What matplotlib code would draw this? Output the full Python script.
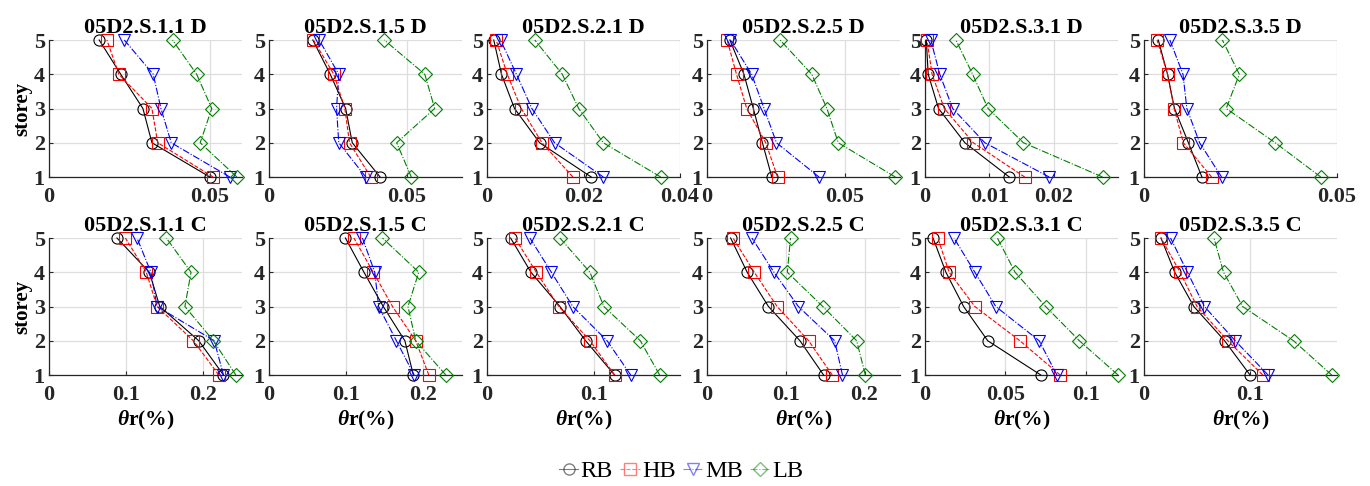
import matplotlib
matplotlib.use('Agg')
import matplotlib.pyplot as plt
from matplotlib.lines import Line2D

plt.rcParams['font.family'] = ['Liberation Serif', 'DejaVu Serif']
plt.rcParams['mathtext.fontset'] = 'custom'
plt.rcParams['mathtext.it'] = 'Liberation Serif:italic:bold'
plt.rcParams['mathtext.rm'] = 'Liberation Serif:bold'

storeys = [1, 2, 3, 4, 5]
titles = ['05D2.S.1.1 D', '05D2.S.1.5 D', '05D2.S.2.1 D', '05D2.S.2.5 D', '05D2.S.3.1 D', '05D2.S.3.5 D',
          '05D2.S.1.1 C', '05D2.S.1.5 C', '05D2.S.2.1 C', '05D2.S.2.5 C', '05D2.S.3.1 C', '05D2.S.3.5 C']

# drift per storey (storey 1 .. 5)
rb = [[0.0500, 0.0320, 0.0292, 0.0223, 0.0156],
      [0.0403, 0.0302, 0.0278, 0.0222, 0.0159],
      [0.0216, 0.0109, 0.0057, 0.0030, 0.0014],
      [0.0235, 0.0201, 0.0168, 0.0134, 0.0083],
      [0.0131, 0.0062, 0.0021, 0.0005, 0.0002],
      [0.0150, 0.0115, 0.0079, 0.0061, 0.0037],
      [0.226, 0.194, 0.1435, 0.130, 0.088],
      [0.187, 0.176, 0.148, 0.123, 0.099],
      [0.119, 0.092, 0.068, 0.041, 0.022],
      [0.148, 0.118, 0.078, 0.051, 0.030],
      [0.072, 0.039, 0.024, 0.013, 0.005],
      [0.100, 0.076, 0.047, 0.029, 0.016]]
hb = [[0.0510, 0.0338, 0.0320, 0.0217, 0.0180],
      [0.0369, 0.0292, 0.0275, 0.0235, 0.0161],
      [0.0178, 0.0114, 0.0071, 0.0042, 0.0019],
      [0.0256, 0.0213, 0.0144, 0.0107, 0.0073],
      [0.0155, 0.0075, 0.0030, 0.0011, 0.0003],
      [0.0175, 0.0102, 0.0078, 0.0061, 0.0034],
      [0.220, 0.187, 0.140, 0.126, 0.099],
      [0.207, 0.190, 0.160, 0.135, 0.110],
      [0.119, 0.096, 0.067, 0.046, 0.026],
      [0.159, 0.129, 0.089, 0.060, 0.033],
      [0.084, 0.059, 0.031, 0.015, 0.008],
      [0.112, 0.079, 0.050, 0.034, 0.016]]
mb = [[0.0562, 0.0380, 0.0348, 0.0324, 0.0234],
      [0.0351, 0.0253, 0.0245, 0.0253, 0.0182],
      [0.0241, 0.0140, 0.0093, 0.0061, 0.0028],
      [0.0406, 0.0252, 0.0207, 0.0162, 0.0085],
      [0.0193, 0.0093, 0.0043, 0.0023, 0.0009],
      [0.0201, 0.0144, 0.0111, 0.0101, 0.0067],
      [0.226, 0.214, 0.140, 0.132, 0.114],
      [0.188, 0.165, 0.142, 0.137, 0.121],
      [0.134, 0.112, 0.080, 0.060, 0.040],
      [0.172, 0.162, 0.116, 0.085, 0.057],
      [0.082, 0.071, 0.044, 0.031, 0.018],
      [0.117, 0.086, 0.057, 0.041, 0.025]]
lb = [[0.0584, 0.0470, 0.0506, 0.0459, 0.0384],
      [0.0516, 0.0463, 0.0601, 0.0565, 0.0418],
      [0.0360, 0.0241, 0.0190, 0.0156, 0.0099],
      [0.0683, 0.0476, 0.0435, 0.0380, 0.0265],
      [0.0276, 0.0153, 0.0098, 0.0074, 0.0048],
      [0.0458, 0.0340, 0.0213, 0.0247, 0.0203],
      [0.242, 0.213, 0.176, 0.184, 0.152],
      [0.229, 0.190, 0.180, 0.194, 0.147],
      [0.161, 0.143, 0.109, 0.096, 0.068],
      [0.201, 0.190, 0.147, 0.102, 0.106],
      [0.120, 0.096, 0.075, 0.056, 0.045],
      [0.177, 0.141, 0.093, 0.075, 0.066]]

xmax = [0.06, 0.07, 0.04, 0.07, 0.03, 0.05, 0.25, 0.25, 0.18, 0.245, 0.12, 0.182]
xticks = [[0, 0.05], [0, 0.05], [0, 0.02, 0.04], [0, 0.05], [0, 0.01, 0.02], [0, 0.05],
          [0, 0.1, 0.2], [0, 0.1, 0.2], [0, 0.1], [0, 0.1, 0.2], [0, 0.05, 0.1], [0, 0.1]]

names = ['RB', 'HB', 'MB', 'LB']
colors = ['black', 'red', 'blue', (0, 0.5, 0)]
styles = ['-', '--', '-.', '-.']
markers = ['o', 's', 'v', 'D']
msizes = [8, 8, 8.5, 7]

W, H = 1370, 486
fig = plt.figure(figsize=(13.7, 4.86), dpi=100)
lefts = [49, 269, 487, 707, 925, 1144]
tops = [40, 238]
aw, ah = 193, 137

for i in range(12):
    r, c = divmod(i, 6)
    ax = fig.add_axes([lefts[c] / W, 1 - (tops[r] + ah) / H, aw / W, ah / H])
    series = [rb[i], hb[i], mb[i], lb[i]]
    for s in range(4):
        ax.plot(series[s], storeys, linestyle=styles[s], color=colors[s], lw=0.8,
                marker=markers[s], ms=msizes[s], mfc='none', mec=colors[s], mew=0.8,
                clip_on=False, zorder=3)
    ax.set_xlim(0, xmax[i])
    ax.set_ylim(1, 5)
    ax.set_xticks(xticks[i])
    ax.set_xticklabels(['%g' % t for t in xticks[i]])
    ax.set_yticks(storeys)
    ax.grid(True, color='#dedede', lw=0.9)
    ax.set_axisbelow(True)
    for sp in ['top', 'right']:
        ax.spines[sp].set_visible(False)
    for sp in ['left', 'bottom']:
        ax.spines[sp].set_color('#262626')
        ax.spines[sp].set_linewidth(0.9)
    ax.tick_params(direction='in', length=3, width=0.8, colors='#262626', labelsize=16)
    ax.tick_params(axis='x', pad=7)
    ax.tick_params(axis='y', pad=3)
    for lab in ax.get_xticklabels() + ax.get_yticklabels():
        lab.set_fontweight('bold')
    ax.set_title(titles[i], fontsize=16, fontweight='bold', pad=5)
    if c == 0:
        ax.set_ylabel('storey', fontsize=15, fontweight='bold', labelpad=1)
    if r == 1:
        ax.set_xlabel(r'$\theta$r(%)', fontsize=15.5, fontweight='bold', labelpad=3)

handles = [Line2D([], [], linestyle=styles[s], color=colors[s], lw=0.8, marker=markers[s],
                  ms=msizes[s], mfc='none', mec=colors[s], alpha=0.5) for s in range(4)]
fig.legend(handles, names, loc='center', bbox_to_anchor=(0.497, 1 - 471 / H), ncol=4,
           frameon=False, fontsize=17.5, handlelength=0.8, handletextpad=0.1, columnspacing=0.3)

fig.savefig('out.png', dpi=100)
